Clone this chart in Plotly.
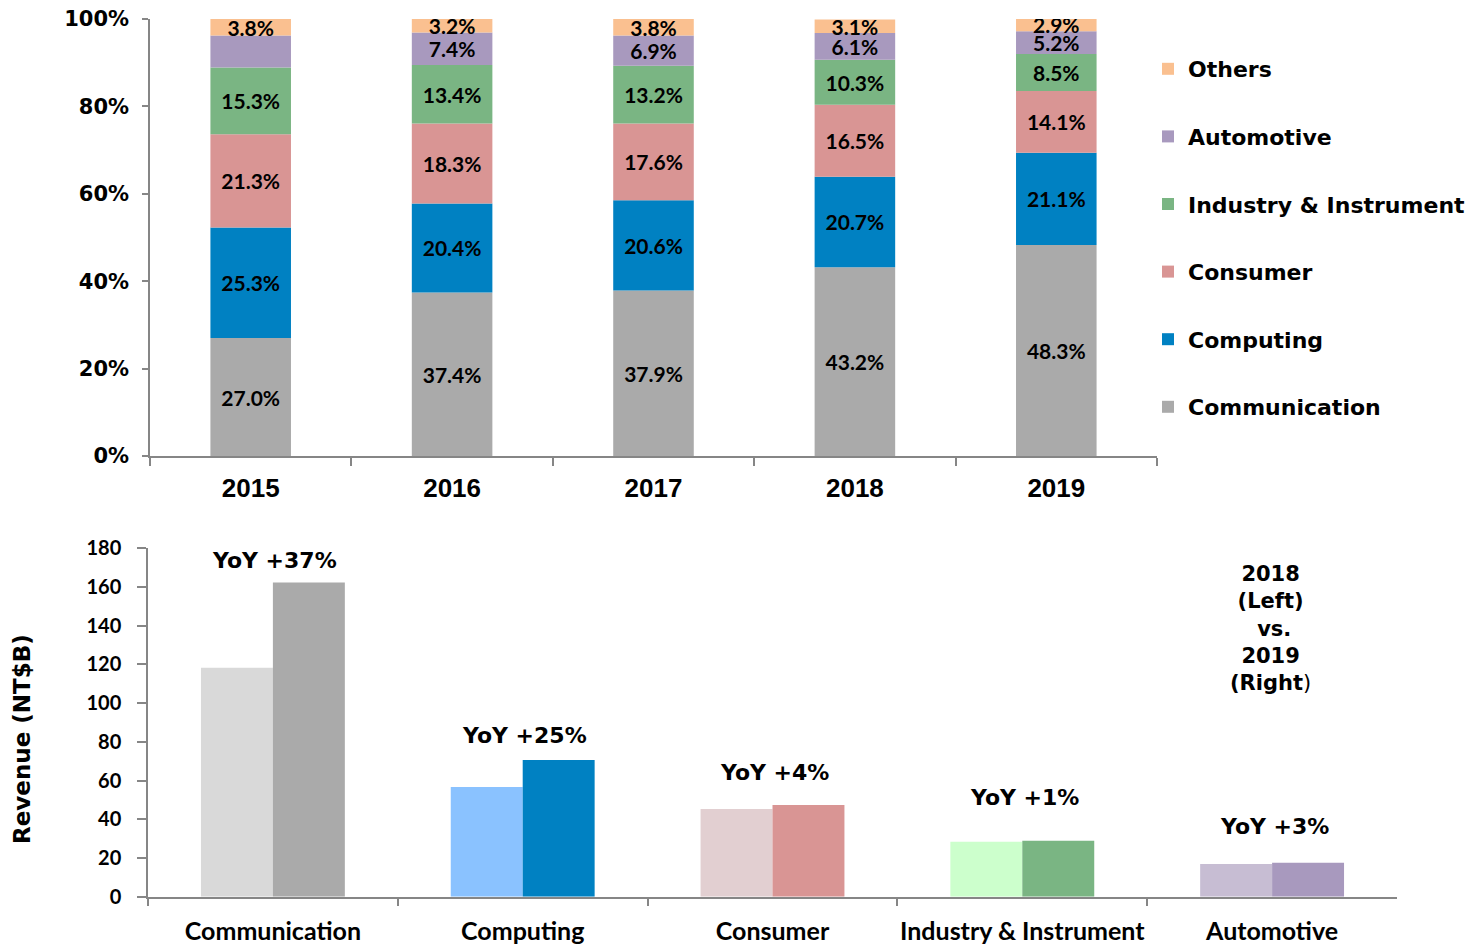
import plotly.graph_objects as go

# ---------------- data: top chart (revenue mix, %) ----------------
years = ["2015", "2016", "2017", "2018", "2019"]
communication = [27.0, 37.4, 37.9, 43.2, 48.3]
computing = [25.3, 20.4, 20.6, 20.7, 21.1]
consumer = [21.3, 18.3, 17.6, 16.5, 14.1]
industry = [15.3, 13.4, 13.2, 10.3, 8.5]
automotive = [7.3, 7.4, 6.9, 6.1, 5.2]
others = [3.8, 3.2, 3.8, 3.1, 2.9]
pct_ticks = [0, 20, 40, 60, 80, 100]

# ---------------- data: bottom chart (revenue, NT$B) ----------------
segments = ["Communication", "Computing", "Consumer", "Industry & Instrument", "Automotive"]
rev_2018 = [118.3, 56.7, 45.3, 28.4, 16.9]
rev_2019 = [162.3, 70.6, 47.4, 28.9, 17.6]
yoy_labels = ["YoY +37%", "YoY +25%", "YoY +4%", "YoY +1%", "YoY +3%"]

# ---------------- styles ----------------
ARIAL = "DejaVu Sans"
CALIBRI = "Lato"
AXIS_GRAY = "#868686"

top_series = [
    ("Communication", communication, "#AAAAAA"),
    ("Computing", computing, "#0081C2"),
    ("Consumer", consumer, "#D99594"),
    ("Industry & Instrument", industry, "#7AB583"),
    ("Automotive", automotive, "#A899BE"),
    ("Others", others, "#FAC090"),
]
colors_2018 = ["#D9D9D9", "#8AC2FF", "#E2CFD1", "#CCFFCC", "#C7BDD3"]
colors_2019 = ["#AAAAAA", "#0081C2", "#D99594", "#7AB583", "#A899BE"]

fig = go.Figure()

TOP_W = 0.40
base = [0.0] * len(years)
n_top = len(top_series)
for i, (name, vals, color) in enumerate(top_series):
    labels = [f"{v:.1f}%" for v in vals]
    if name == "Automotive":
        labels[0] = ""  # no label shown for this segment in the source
    fig.add_trace(go.Bar(
        x=years, y=vals, base=base[:], name=name,
        marker=dict(color=color, line=dict(width=0)),
        width=TOP_W, offset=-TOP_W / 2,
        text=labels, textposition="inside", insidetextanchor="middle",
        textangle=0, constraintext="none",
        textfont=dict(family=CALIBRI, size=21, color="black", weight="bold"),
        legendgroup=name, legendrank=n_top - i, hoverinfo="skip",
        xaxis="x", yaxis="y",
    ))
    base = [b + v for b, v in zip(base, vals)]

BOT_W = 0.288
fig.add_trace(go.Bar(
    x=segments, y=rev_2018, name="2018", showlegend=False,
    marker=dict(color=colors_2018, line=dict(width=0)),
    width=BOT_W, offset=-BOT_W, xaxis="x2", yaxis="y2", hoverinfo="skip",
))
fig.add_trace(go.Bar(
    x=segments, y=rev_2019, name="2019", showlegend=False,
    marker=dict(color=colors_2019, line=dict(width=0)),
    width=BOT_W, offset=0, xaxis="x2", yaxis="y2", hoverinfo="skip",
))

# YoY labels above each group
yoy_shift = [22, 25, 32, 43, 36]
annotations = []
for seg, a, b, lab, sh in zip(segments, rev_2018, rev_2019, yoy_labels, yoy_shift):
    annotations.append(dict(
        x=seg, y=max(a, b), xref="x2", yref="y2", text=lab, showarrow=False,
        xanchor="center", yanchor="middle", yshift=sh, xshift=2,
        font=dict(family=ARIAL, size=22, color="black", weight="bold"),
    ))

annotations.append(dict(
    x=1270 / 1482, y=1 - 628 / 945, xref="paper", yref="paper",
    xanchor="center", yanchor="middle",
    text="<b>2018</b><br><b>(Left)</b><br><b> vs.</b><br><b>2019</b><br><b>(Right</b>)",
    showarrow=False, align="center",
    font=dict(family=ARIAL, size=21, color="black"),
))
annotations.append(dict(
    x=22 / 1482, y=1 - 739 / 945, xref="paper", yref="paper",
    xanchor="center", yanchor="middle",
    text="Revenue (NT$B)", textangle=-90, showarrow=False,
    font=dict(family=ARIAL, size=23, color="black", weight="bold"),
))

common_axis = dict(showline=True, linecolor=AXIS_GRAY, linewidth=1.5,
                   ticks="outside", tickcolor=AXIS_GRAY, tickwidth=1.5,
                   showgrid=False, zeroline=False, fixedrange=True,
                   automargin=False)

fig.update_layout(
    width=1482, height=945,
    margin=dict(l=0, r=0, t=0, b=0, autoexpand=False),
    plot_bgcolor="white", paper_bgcolor="white",
    barmode="overlay",
    xaxis=dict(domain=[150 / 1482, 1157 / 1482], anchor="y", type="category",
               range=[-0.5, 4.5], tickson="boundaries", ticklen=8, tickangle=0,
               tickfont=dict(family="Liberation Sans", size=26, color="black", weight="bold"),
               ticklabelstandoff=8, **common_axis),
    yaxis=dict(domain=[1 - 456 / 945, 1 - 19 / 945], anchor="x", range=[0, 100],
               tickmode="array", tickvals=pct_ticks,
               ticktext=[f"{t}%" for t in pct_ticks], ticklen=6,
               tickfont=dict(family=ARIAL, size=21, color="black", weight="bold"),
               ticklabelstandoff=9, **common_axis),
    xaxis2=dict(domain=[148 / 1482, 1397 / 1482], anchor="y2", type="category",
                range=[-0.5, 4.5], tickson="boundaries", ticklen=8, tickangle=0,
                tickfont=dict(family=CALIBRI, size=25, color="black", weight="bold"),
                ticklabelstandoff=12, **common_axis),
    yaxis2=dict(domain=[1 - 896.7 / 945, 1 - 548.3 / 945], anchor="x2", range=[0, 180],
                dtick=20, ticklen=9,
                tickfont=dict(family=CALIBRI, size=20, color="black", weight="bold"),
                ticklabelstandoff=12, **common_axis),
    legend=dict(x=1148 / 1482, y=1 - 48 / 945, xanchor="left", yanchor="top",
                traceorder="grouped", tracegroupgap=36,
                font=dict(family=ARIAL, size=22, color="black", weight="bold"),
                bgcolor="rgba(0,0,0,0)"),
    annotations=annotations,
)

fig.write_html("out.html", config={"displayModeBar": False},
               post_script="document.body.style.margin='0';document.body.style.overflow='hidden';")
